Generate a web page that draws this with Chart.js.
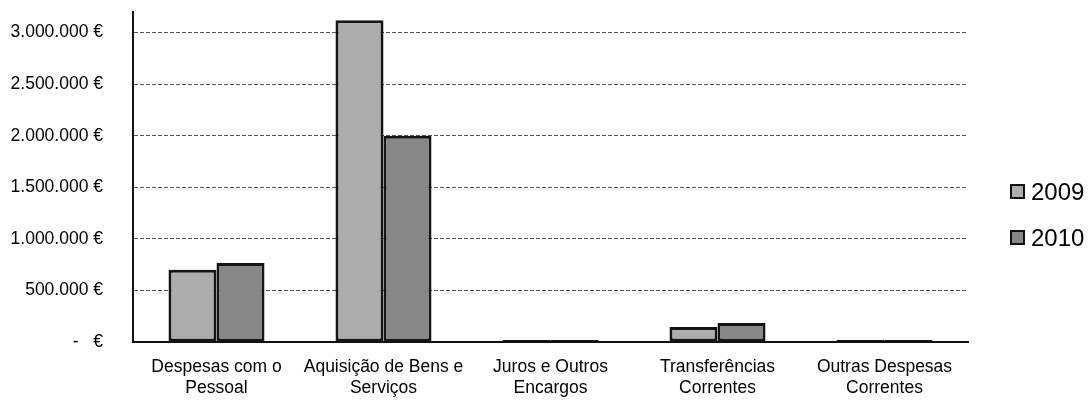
<!DOCTYPE html>
<html>
<head>
<meta charset="utf-8">
<script src="https://cdn.jsdelivr.net/npm/chart.js@4/dist/chart.umd.min.js"></script>
<style>
  html, body { margin: 0; padding: 0; background: #fff; }
  #wrap { width: 1091px; height: 414px; position: relative; }
</style>
</head>
<body>
<div id="wrap"><canvas id="chart"></canvas></div>
<script>
// categories + values
const categories = [
  ['Despesas com o', 'Pessoal'],
  ['Aquisição de Bens e', 'Serviços'],
  ['Juros e Outros', 'Encargos'],
  ['Transferências', 'Correntes'],
  ['Outras Despesas', 'Correntes']
];
const values2009 = [700000, 3120000, 20000, 146000, 20000];
const values2010 = [767000, 2000000, 20000, 185000, 20000];
const seriesNames = ['2009', '2010'];
const yTicks = [0, 500000, 1000000, 1500000, 2000000, 2500000, 3000000];

const axisFont = "'Liberation Sans', Arial, sans-serif";

function euro(v) {
  if (v === 0) return '-   €';
  return v.toString().replace(/\B(?=(\d{3})+(?!\d))/g, '.') + ' €';
}

// simple legend drawn at the right, like the original
const sideLegend = {
  id: 'sideLegend',
  afterDraw(chart) {
    const ctx = chart.ctx;
    ctx.save();
    ctx.font = "24px 'Liberation Sans', Arial, sans-serif";
    ctx.textBaseline = 'middle';
    chart.data.datasets.forEach((ds, i) => {
      const y = 192 + i * 46;
      ctx.fillStyle = ds.backgroundColor;
      ctx.fillRect(1011, y - 7, 13, 13);
      ctx.lineWidth = 2;
      ctx.strokeStyle = '#111';
      ctx.strokeRect(1011, y - 7, 13, 13);
      ctx.fillStyle = '#000';
      ctx.fillText(ds.label, 1031, y + 1);
    });
    ctx.restore();
  }
};

new Chart(document.getElementById('chart'), {
  type: 'bar',
  data: {
    labels: categories,
    datasets: [
      {
        label: seriesNames[0],
        data: values2009,
        backgroundColor: '#adadad',
        borderColor: '#151515',
        borderWidth: 3,
        borderSkipped: false
      },
      {
        label: seriesNames[1],
        data: values2010,
        backgroundColor: '#878787',
        borderColor: '#151515',
        borderWidth: 3,
        borderSkipped: false
      }
    ]
  },
  options: {
    responsive: true,
    maintainAspectRatio: false,
    animation: false,
    categoryPercentage: 0.575,
    barPercentage: 1.0,
    layout: { padding: { top: 12, right: 123, bottom: 0, left: 0 } },
    plugins: {
      legend: { display: false },
      tooltip: { enabled: false }
    },
    scales: {
      x: {
        grid: { drawOnChartArea: false, drawTicks: false },
        border: { display: true, color: '#111', width: 2 },
        ticks: {
          color: '#000',
          padding: 15,
          maxRotation: 0,
          autoSkip: false,
          font: { family: axisFont, size: 17.5, lineHeight: 1.2 }
        },
        afterFit(s) {
          s.height = 72;
          s.paddingLeft = 0;
          s.paddingRight = 0;
        }
      },
      y: {
        min: 0,
        max: 3200000,
        grid: { color: '#555', lineWidth: 1, drawTicks: false },
        border: { display: true, color: '#111', width: 2, dash: [4, 2] },
        ticks: {
          stepSize: 500000,
          color: '#000',
          padding: 30,
          font: { family: axisFont, size: 17.5 },
          callback: (v) => euro(v)
        },
        afterBuildTicks(s) {
          s.ticks = yTicks.map(v => ({ value: v }));
        },
        afterFit(s) {
          s.width = 133;
          s.paddingTop = 0;
          s.paddingBottom = 0;
        }
      }
    }
  },
  plugins: [sideLegend]
});
</script>
</body>
</html>
